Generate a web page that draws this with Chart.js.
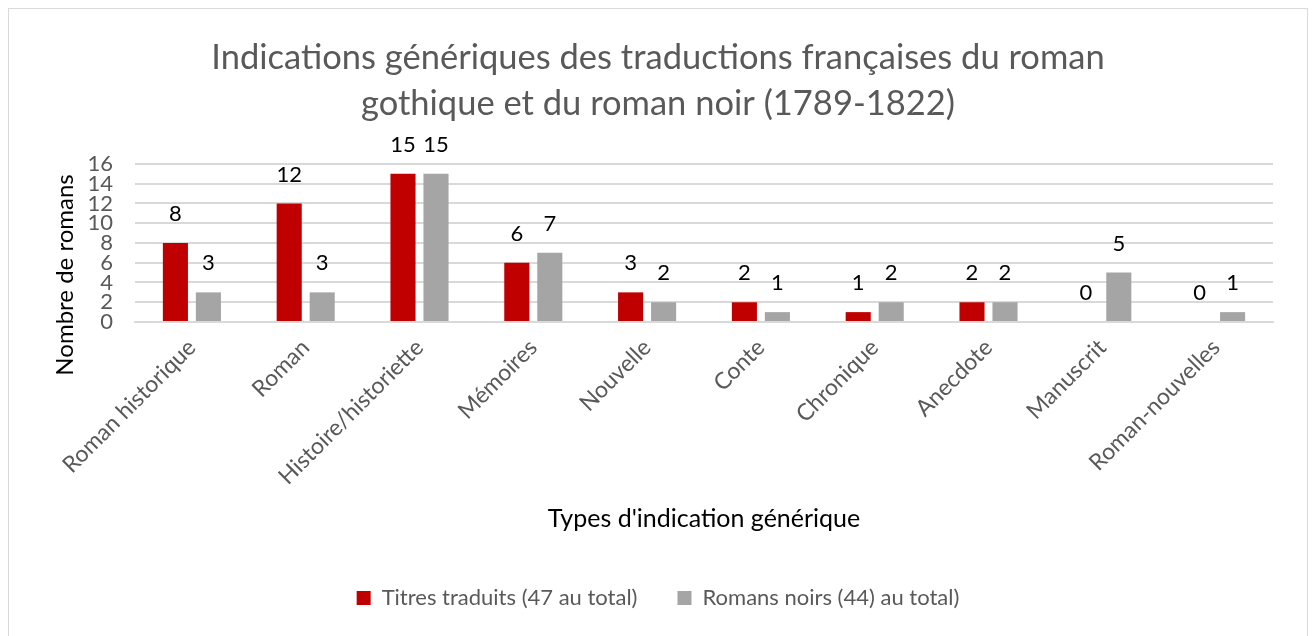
<!DOCTYPE html>
<html>
<head>
<meta charset="utf-8">
<script src="https://cdn.jsdelivr.net/npm/chart.js@4"></script>
<style>
  body { margin: 0; background: #fff; }
  #cadre { position: absolute; left: 8px; top: 8px; width: 1298px; height: 630px; border: 1px solid #d9d9d9; background: #fff; }
</style>
</head>
<body>
<div id="cadre"><canvas id="grafico" width="1298" height="630"></canvas></div>
<script>
var categories = ['Roman historique', 'Roman', 'Histoire/historiette', 'Mémoires', 'Nouvelle', 'Conte', 'Chronique', 'Anecdote', 'Manuscrit', 'Roman-nouvelles'];
var titresTraduits = [8, 12, 15, 6, 3, 2, 1, 2, 0, 0];
var romansNoirs = [3, 3, 15, 7, 2, 1, 2, 2, 5, 1];
var yTicks = [0, 2, 4, 6, 8, 10, 12, 14, 16];

var police = 'Lato, "Open Sans", sans-serif';

// valeurs au-dessus des barres
var etiquettes = {
    id: 'etiquettes',
    afterDatasetsDraw: function(chart) {
        var ctx = chart.ctx;
        ctx.save();
        ctx.fillStyle = '#000';
        ctx.font = '22px ' + police;
        ctx.textAlign = 'center';
        ctx.textBaseline = 'middle';
        chart.data.datasets.forEach(function(ds, i) {
            var meta = chart.getDatasetMeta(i);
            meta.data.forEach(function(bar, j) {
                ctx.fillText(ds.data[j], bar.x, bar.y - 29);
            });
        });
        ctx.restore();
    }
};

// titre de l'axe vertical, un peu plus bas que le centre (comme Excel)
var titreAxeY = {
    id: 'titreAxeY',
    afterDraw: function(chart) {
        var ctx = chart.ctx;
        var area = chart.chartArea;
        ctx.save();
        ctx.translate(56, (area.top + area.bottom) / 2 + 32);
        ctx.rotate(-Math.PI / 2);
        ctx.fillStyle = '#000';
        ctx.font = '24px ' + police;
        ctx.textAlign = 'center';
        ctx.textBaseline = 'middle';
        ctx.fillText('Nombre de romans', 0, 0);
        ctx.restore();
    }
};

var datos = {
    labels: categories,
    datasets: [{
        label: 'Titres traduits (47 au total)',
        data: titresTraduits,
        backgroundColor: '#C00000',
        categoryPercentage: 0.58,
        barPercentage: 0.76
    }, {
        label: 'Romans noirs (44) au total)',
        data: romansNoirs,
        backgroundColor: '#A5A5A5',
        categoryPercentage: 0.58,
        barPercentage: 0.76
    }]
};

var config = {
    type: 'bar',
    data: datos,
    plugins: [etiquettes, titreAxeY],
    options: {
        responsive: false,
        animation: false,
        layout: { padding: { left: 0, right: 0, top: 0, bottom: 20 } },
        plugins: {
            title: {
                display: true,
                text: ['Indications génériques des traductions françaises du roman', 'gothique et du roman noir (1789-1822)'],
                color: '#595959',
                font: { family: police, size: 34.5, weight: 'normal', lineHeight: 1.333 },
                padding: { top: 26, bottom: 37 }
            },
            legend: {
                position: 'bottom',
                labels: {
                    color: '#595959',
                    font: { family: police, size: 22 },
                    boxWidth: 14,
                    boxHeight: 14,
                    padding: 40
                }
            },
            tooltip: { enabled: false }
        },
        scales: {
            x: {
                grid: { display: false },
                border: { color: '#d9d9d9', width: 2 },
                ticks: {
                    color: '#595959',
                    font: { family: police, size: 23 },
                    minRotation: 45,
                    maxRotation: 45,
                    padding: 4
                },
                title: {
                    display: true,
                    text: "Types d'indication générique",
                    color: '#000',
                    font: { family: police, size: 25 },
                    padding: { top: 10, bottom: 13 }
                },
                afterFit: function(scale) { scale.height = 225; }
            },
            y: {
                min: 0,
                max: 16,
                afterBuildTicks: function(scale) {
                    scale.ticks = yTicks.map(function(v) { return { value: v }; });
                },
                grid: { color: '#d9d9d9', lineWidth: 2, drawTicks: false },
                border: { display: false },
                ticks: {
                    color: '#595959',
                    font: { family: police, size: 22 },
                    padding: 22,
                    autoSkip: false
                },
                afterFit: function(scale) { scale.width = 126; }
            },
            // marge droite vide pour que titre et légende restent centrés sur le cadre
            marge: {
                position: 'right',
                grid: { display: false },
                border: { display: false },
                ticks: { display: false },
                afterFit: function(scale) { scale.width = 34; }
            }
        }
    }
};

var myChart = new Chart(document.getElementById('grafico'), config);
</script>
</body>
</html>
